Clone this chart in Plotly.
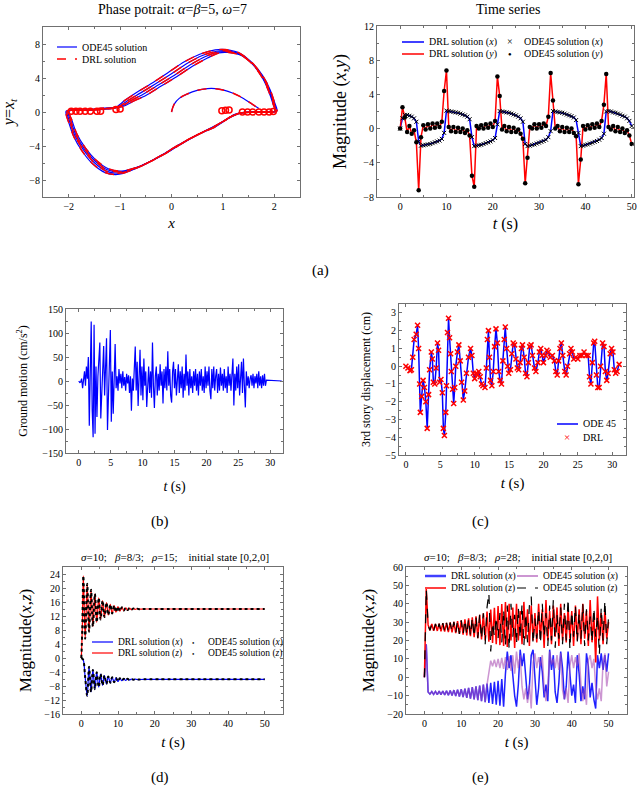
import numpy as np
import plotly.graph_objects as go

W, H = 640, 787
FONT = "Liberation Serif"
BLUE = "#0000FF"
RED = "#FF0000"
PURPLE = "rgba(170,80,180,0.6)"

# ---------------- (a) left: phase portrait, several passes round the cycle ----------------
xA = [-1.10, -0.90, -0.65, -0.35, -0.05, 0.25, 0.55, 0.85, 1.05, 1.30, 1.55, 1.77, 1.92, 2.00, 2.05, 1.70, 1.35, 1.15, 0.95, 0.70, 0.40, 0.10, -0.20, -0.50, -0.80, -1.05, -1.30, -1.55, -1.75, -1.90, -1.99, -2.05, -1.70, -1.35, -1.10]
yA = [0.50, 1.40, 2.40, 3.50, 4.70, 5.90, 6.80, 7.30, 7.35, 7.00, 5.90, 4.30, 2.60, 1.20, 0.10, 0.00, -0.10, -0.60, -1.30, -2.10, -3.00, -4.00, -5.10, -6.10, -6.90, -7.35, -7.10, -6.00, -4.50, -2.90, -1.40, 0.10, 0.20, 0.30, 0.50]
xB = [-1.05, -0.85, -0.60, -0.30, 0.00, 0.30, 0.60, 0.88, 1.07, 1.32, 1.56, 1.77, 1.91, 1.99, 2.03, 1.70, 1.35, 1.18, 0.98, 0.75, 0.45, 0.15, -0.15, -0.45, -0.75, -1.02, -1.27, -1.52, -1.72, -1.88, -1.97, -2.03, -1.70, -1.35, -1.05]
yB = [0.55, 1.35, 2.25, 3.35, 4.50, 5.70, 6.65, 7.15, 7.20, 6.85, 5.80, 4.20, 2.55, 1.15, 0.10, 0.00, -0.10, -0.50, -1.20, -1.95, -2.85, -3.85, -4.95, -5.95, -6.75, -7.20, -6.95, -5.85, -4.40, -2.80, -1.30, 0.10, 0.20, 0.35, 0.55]
xC = [-1.00, -0.80, -0.55, -0.25, 0.05, 0.35, 0.65, 0.90, 1.09, 1.34, 1.57, 1.77, 1.90, 1.98, 2.02, 1.70, 1.35, 1.20, 1.01, 0.80, 0.50, 0.20, -0.10, -0.40, -0.70, -1.00, -1.25, -1.50, -1.70, -1.86, -1.95, -2.01, -1.70, -1.35, -1.00]
yC = [0.60, 1.30, 2.10, 3.20, 4.30, 5.50, 6.50, 7.05, 7.10, 6.75, 5.70, 4.10, 2.50, 1.10, 0.10, 0.00, -0.10, -0.40, -1.10, -1.85, -2.70, -3.70, -4.80, -5.80, -6.60, -7.05, -6.80, -5.70, -4.30, -2.70, -1.20, 0.10, 0.20, 0.40, 0.60]
xD = [-0.95, -0.75, -0.50, -0.20, 0.10, 0.40, 0.70, 0.92, 1.11, 1.36, 1.58, 1.77, 1.89, 1.97, 2.01, 1.70, 1.35, 1.22, 1.04, 0.85, 0.55, 0.25, -0.05, -0.35, -0.65, -0.97, -1.22, -1.48, -1.68, -1.84, -1.93, -1.99, -1.70, -1.35, -0.95]
yD = [0.65, 1.25, 1.95, 3.05, 4.15, 5.35, 6.35, 6.95, 7.00, 6.65, 5.60, 4.00, 2.45, 1.05, 0.10, 0.00, -0.10, -0.30, -1.00, -1.75, -2.55, -3.55, -4.65, -5.65, -6.45, -6.95, -6.70, -5.60, -4.20, -2.60, -1.10, 0.10, 0.20, 0.45, 0.65]
# start-up transient from the origin
x_start = [0.0, 0.05, 0.15, 0.30, 0.50, 0.70, 0.85, 1.00, 1.20, 1.40, 1.60, 1.70]
y_start = [0.0, 0.90, 1.60, 2.10, 2.55, 2.75, 2.75, 2.60, 2.20, 1.60, 0.80, 0.40]
# small loops sitting on y ~ 0
loop_x = [-1.95, -1.86, -1.78, -1.68, -1.58, -1.45, -1.38, -1.08, -1.00,
          0.98, 1.05, 1.12, 1.38, 1.48, 1.58, 1.70, 1.80, 1.90, 1.98]
loop_y = [0.10, 0.10, 0.10, 0.10, 0.10, 0.10, 0.10, 0.30, 0.35,
          0.15, 0.20, 0.25, 0.00, 0.00, 0.00, 0.00, 0.00, 0.00, 0.05]

# ---------------- (a) right: time series, 0.5 s samples ----------------
ts_x = [0.0, 1.2, 1.6, 1.6, 1.5, 1.4, 1.2, 0.8, -1.5, -2.0,
        -1.95, -1.9, -1.85, -1.8, -1.7, -1.6, -1.5, -1.4, -1.2, -0.5,
        2.1, 2.05, 2.0, 1.95, 1.9, 1.85, 1.75, 1.65, 1.55, 1.4,
        1.1, -1.0, -2.05, -2.0, -1.95, -1.9, -1.8, -1.7, -1.6, -1.5,
        -1.35, -1.1, 0.5, 2.05, 2.0, 1.95, 1.9, 1.85, 1.75, 1.65,
        1.55, 1.4, 1.2, 0.8, -1.8, -2.05, -2.0, -1.9, -1.85, -1.75,
        -1.65, -1.55, -1.45, -1.3, -1.0, -0.3, 2.05, 2.0, 1.95, 1.9,
        1.85, 1.75, 1.65, 1.55, 1.45, 1.3, 1.0, -0.5, -2.05, -2.0,
        -1.9, -1.85, -1.75, -1.65, -1.55, -1.45, -1.3, -1.1, -0.6, 2.0,
        2.05, 2.0, 1.9, 1.85, 1.75, 1.65, 1.5, 1.4, 1.2, 0.9,
        0.3]
ts_y = [0.0, 2.5, 1.3, -0.4, 0.3, -0.6, -0.2, -1.6, -7.2, -1.0,
        0.4, -0.1, 0.5, 0.0, 0.6, 0.1, 0.6, 0.2, 0.8, 4.4,
        6.8, 0.2, -0.3, 0.2, -0.4, 0.1, -0.4, 0.0, -0.5, -0.2,
        -0.8, -5.5, -6.8, 0.3, 0.0, 0.4, 0.0, 0.5, 0.1, 0.6,
        0.2, 0.9, 6.1, 3.8, -0.1, 0.3, -0.3, 0.2, -0.4, 0.1,
        -0.4, -0.1, -0.6, -1.2, -6.4, -3.4, 0.2, 0.0, 0.5, 0.0,
        0.5, 0.1, 0.6, 0.3, 1.4, 6.5, 3.3, 0.0, 0.3, -0.3,
        0.2, -0.4, 0.1, -0.4, 0.0, -0.5, -0.9, -6.5, -3.6, 0.3,
        -0.1, 0.4, 0.0, 0.5, 0.1, 0.6, 0.2, 0.9, 2.8, 6.4,
        0.2, -0.1, 0.3, -0.3, 0.2, -0.4, 0.0, -0.5, -0.2, -0.8,
        -1.8]
ts_t = np.arange(len(ts_x)) * 0.5

# ---------------- (b) ground motion, 0.15 s samples ----------------
gm = [0, -3, -2, 5, -15, 10, 20, -10, 30, 5,
      50, -93, 20, 124, -60, -117, 117, -110, 30, -75,
      10, 40, 80, -78, -20, 20, 73, -30, 15, 89,
      -102, -20, 60, 106, -85, 20, -68, 10, 77, -15,
      10, -20, 25, -5, 15, -15, 20, -10, 8, -20,
      15, -5, 12, -25, 10, -62, 5, -20, 30, 72,
      -20, 40, -52, 20, 65, -30, 30, -40, 47, -10,
      20, -54, 10, 30, -25, 20, -35, 80, -10, -56,
      10, 30, -30, 15, -20, 35, -10, 20, -47, 25,
      -15, 30, -20, 62, -10, 25, -30, -45, 20, 40,
      -15, 25, -30, 10, 35, -25, 20, -15, 30, -35,
      15, -20, 55, -10, 20, -30, 25, -15, 10, -25,
      20, -10, 25, -20, 15, -30, 20, -10, 25, -20,
      10, -25, 30, -15, 20, -10, 30, -20, -38, 25,
      -15, 30, -20, 10, 25, -25, 15, -20, 28, -10,
      15, -20, 25, -15, 10, -25, 30, -10, 15, -20,
      20, 47, -51, 15, -20, 30, -15, 35, -30, 20,
      40, -25, 47, -10, -55, 20, -10, 10, -15, 5,
      12, -10, 15, -15, 10, -5, 15, -15, 20, -10,
      10, -15, 12, -10, 15, -10]
gm_tail_t = [29.4, 31.8]
gm_tail = [2, 0]
gm_t = list(np.arange(len(gm)) * 0.15) + gm_tail_t
gm_all = gm + gm_tail

# ---------------- (c) 3rd story displacement ----------------
sd_t = [0, 0.3, 0.6, 0.8, 1.0, 1.2, 1.5, 1.7, 1.85, 2.0, 2.1, 2.3, 2.5, 2.7, 2.9, 3.1, 3.3, 3.45, 3.7, 3.85,
        4.0, 4.2, 4.4, 4.6, 4.75, 4.9, 5.1, 5.3, 5.45, 5.6, 5.8, 5.9, 6.05, 6.2, 6.35, 6.5, 6.6, 6.8, 6.95, 7.1,
        7.25, 7.5, 7.7, 7.9, 8.1, 8.35, 8.55, 8.8, 9.1, 9.4, 9.6, 9.8, 10.0, 10.2, 10.4, 10.6, 10.8, 11.0, 11.2, 11.5,
        11.7, 11.85, 12.0, 12.15, 12.3, 12.5, 12.7, 12.9, 13.1, 13.3, 13.5, 13.7, 13.9, 14.1, 14.3, 14.45, 14.65, 14.8, 14.95, 15.2,
        15.4, 15.6, 15.8, 16.0, 16.2, 16.4, 16.6, 16.8, 16.95, 17.2, 17.4, 17.6, 17.8, 18.0, 18.2, 18.4, 18.7, 18.9, 19.2, 19.4,
        19.6, 19.8, 20.0, 20.3, 20.5, 20.7, 21.0, 21.3, 21.6, 21.8, 22.0, 22.2, 22.4, 22.6, 22.8, 23.1, 23.3, 23.5, 23.8, 24.0,
        24.2, 24.4, 24.7, 25.0, 25.3, 25.6, 25.9, 26.2, 26.5, 26.7, 26.9, 27.1, 27.3, 27.45, 27.7, 27.9, 28.1, 28.3, 28.6, 28.8,
        29.0, 29.2, 29.4, 29.7, 29.9, 30.1, 30.3, 30.5, 30.7, 31.0]
sd = [0.0, -0.1, -0.25, -0.2, 0.5, 1.5, 1.8, 2.3, 1.0, -1.0, -2.6, -1.7, -0.8, -1.2, -2.0, -3.5, -1.6, -0.2, 0.8, 0.4,
      -0.9, -1.0, -0.1, 1.3, 0.9, -0.9, -0.75, -1.5, -3.5, -3.9, -2.6, -1.1, 1.9, 2.7, 1.6, 0.7, -0.3, -1.3, -2.1, -1.2,
      0.0, 0.8, 1.2, 0.3, -0.9, -1.9, -1.4, -0.4, 0.5, 1.0, 0.6, -0.4, -0.7, -0.4, -0.5, -0.3, -0.6, -1.0, -1.1, -1.2,
      -0.1, 1.5, 2.0, 0.5, -0.8, -1.1, -0.3, 1.1, 2.1, 1.3, -0.3, -0.8, -1.0, 0.3, 1.5, 2.2, 1.0, 0.0, -0.4, -0.2,
      0.7, 1.3, 1.2, 0.4, -0.1, -0.2, 0.2, 1.0, 1.2, 0.5, -0.4, -0.6, 0.2, 1.1, 1.2, 0.6, -0.1, -0.3, 0.2, 0.8,
      1.0, 0.6, 0.2, 0.6, 0.9, 0.8, 0.5, 0.6, 0.3, -0.3, -0.5, 0.3, 1.0, 1.3, 0.6, -0.3, -0.5, 0.0, 0.7, 1.0,
      0.8, 0.4, 0.5, 0.4, 0.6, 0.6, 0.8, 0.6, 0.6, -0.6, -1.0, 0.2, 1.3, 1.4, -0.5, -1.2, -1.2, 0.0, 1.3, 1.1,
      -0.3, -0.8, -0.4, 0.7, 1.0, 0.8, -0.2, -0.4, -0.3, 0.1]

# ---------------- (d) Lorenz, rho = 15 (peaks and troughs) ----------------
ld_z_t = [0, 0.25, 0.55, 1.05, 1.6, 2.1, 2.65, 3.15, 3.7, 4.2, 4.75, 5.25, 5.8, 6.3, 6.85, 7.35, 7.9, 8.4,
          8.95, 9.45, 10.0, 10.5, 11.05, 11.55, 12.1, 12.6, 13.15, 13.65, 14.2, 14.7, 15.25, 15.75, 17.0, 50.0]
ld_z = [0, 8, 23.5, 5.5, 21.2, 7.5, 19.5, 9.0, 18.3, 10.2, 17.2, 11.0, 16.4, 11.7, 15.8, 12.3, 15.3, 12.7,
        15.0, 13.1, 14.7, 13.35, 14.5, 13.55, 14.35, 13.7, 14.25, 13.8, 14.15, 13.9, 14.1, 13.95, 14.0, 14.0]
ld_x_t = [0, 0.5, 1.0, 1.6, 2.1, 2.65, 3.15, 3.7, 4.2, 4.75, 5.25, 5.8, 6.3, 6.85, 7.35, 7.9, 8.4, 8.95,
          9.45, 10.0, 10.5, 11.05, 11.55, 12.1, 12.6, 13.15, 13.65, 14.2, 14.7, 15.25, 17.0, 50.0]
ld_x = [0, -0.5, -5.0, -10.8, -2.5, -9.7, -3.4, -8.9, -4.1, -8.3, -4.6, -7.8, -5.0, -7.4, -5.3, -7.1, -5.5, -6.9,
        -5.7, -6.7, -5.8, -6.5, -5.9, -6.4, -5.95, -6.3, -6.0, -6.2, -6.05, -6.15, -6.1, -6.1]

# ---------------- (e) Lorenz, rho = 28, 0.5 s samples ----------------
le_drl_z = [0, 48, 28.5, 25.5, 29.0, 25.3, 29.0, 25.2, 29.2, 25.0,
            29.4, 24.8, 29.6, 24.6, 29.8, 24.4, 30.2, 24.0, 30.6, 23.6,
            31.0, 23.2, 31.5, 22.8, 32.0, 22.3, 32.6, 21.8, 33.2, 21.2,
            34.0, 20.6, 34.8, 20.0, 35.8, 19.3, 36.8, 18.6, 37.8, 18.0,
            38.8, 17.5, 39.8, 17.0, 41.0, 16.5, 40.0, 20.0, 38.0, 16.0,
            40.0, 20.0, 36.0, 18.0, 41.0, 21.0, 37.0, 17.0, 39.0, 20.0,
            35.0, 19.0, 40.0, 21.0, 37.0, 16.0, 42.0, 20.0, 36.0, 18.0,
            39.0, 22.0, 38.0, 17.0, 40.0, 20.0, 35.0, 19.0, 38.0, 21.0,
            36.0, 17.0, 39.0, 20.0, 37.0, 18.0, 40.0, 21.0, 36.0, 17.0,
            42.0, 19.0, 35.0, 8.0, 44.0, 20.0, 35.0, 18.0, 37.0, 21.0,
            30.0]
le_drl_x = [0, 18, -8.0, -9.2, -7.8, -9.3, -7.7, -9.4, -7.6, -9.5,
            -7.5, -9.6, -7.4, -9.8, -7.2, -10.0, -7.0, -10.2, -6.8, -10.5,
            -6.5, -10.8, -6.2, -11.2, -5.8, -11.6, -5.4, -12.0, -5.0, -12.5,
            -4.5, -13.0, -4.0, -13.5, -3.5, -14.0, -3.0, -14.5, -2.5, -15.0,
            -2.0, -15.5, -1.0, -16.0, 2.0, 14.0, 5.0, 12.0, 1.0, -10.0,
            -16.0, -4.0, 15.0, 6.0, 13.0, -2.0, -12.0, -5.0, 12.0, 15.0,
            -3.0, -15.0, -6.0, 11.0, 3.0, -11.0, -4.0, -13.0, 15.0, 4.0,
            12.0, -8.0, -14.0, -3.0, 14.0, 5.0, -12.0, -5.0, 14.0, 3.0,
            -10.0, -4.0, -14.0, 12.0, 2.0, -13.0, -5.0, -12.0, 13.0, 6.0,
            -11.0, -3.0, -12.0, -17.0, 12.0, 5.0, 13.0, 4.0, 12.0, 3.0,
            13.0]
# ODE45 agrees with DRL at first, then departs
le_ode_z = le_drl_z[:33] + [
    18.0, 38.0, 46.0, 14.0, 30.0, 22.0, 33.0, 21.0, 35.0, 19.0,
    37.0, 17.0, 39.0, 15.0, 40.0, 22.0, 34.0, 18.0, 38.0, 21.0,
    40.0, 17.0, 35.0, 19.0, 39.0, 44.0, 18.0, 32.0, 21.0, 37.0,
    18.0, 40.0, 22.0, 35.0, 17.0, 39.0, 20.0, 42.0, 16.0, 34.0,
    21.0, 38.0, 18.0, 40.0, 20.0, 43.0, 15.0, 36.0, 22.0, 39.0,
    19.0, 35.0, 21.0, 40.0, 17.0, 37.0, 20.0, 33.0, 19.0, 38.0,
    22.0, 34.0, 12.0, 38.0, 20.0, 42.0, 18.0, 33.0]
le_ode_x = le_drl_x[:34] + [
    -4.0, 2.0, 9.0, 6.0, 9.5, 5.5, 10.0, 5.0, 10.5, 4.5,
    11.0, 4.0, 11.5, 3.5, 12.0, 2.0, 14.0, 5.0, 12.0, -5.0,
    -12.0, -6.0, -14.0, -4.0, -17.0, 8.0, 13.0, 5.0, 11.0, 6.0,
    12.0, -6.0, -13.0, -5.0, 14.0, 7.0, 10.0, 5.0, 12.0, 4.0,
    13.0, -7.0, -12.0, -6.0, -14.0, 6.0, 12.0, 5.0, 11.0, 6.0,
    13.0, -4.0, -13.0, -6.0, -15.0, 9.0, 12.0, 5.0, 10.0, -5.0,
    -12.0, -6.0, -13.0, 8.0, 13.0, -5.0, 3.0]


def t_half(arr):
    return np.arange(len(arr)) * 0.5


def join(*parts):
    out = []
    for p in parts:
        out += list(p) + [None]
    return out[:-1]


# pixel layout -> paper fractions
def fx(p):
    return p / W


def fy(p):
    return 1 - p / H


fig = go.Figure()

# (a) left
cyc_x = join(xA, xB, xC, xD)
cyc_y = join(yA, yB, yC, yD)
for col, wid, dash in [(BLUE, 1.2, "solid"), (RED, 1.5, "dash")]:
    fig.add_trace(go.Scatter(x=cyc_x, y=cyc_y, mode="lines", xaxis="x", yaxis="y",
                             line=dict(color=col, width=wid, dash=dash, shape="spline", smoothing=0.8)))
    fig.add_trace(go.Scatter(x=x_start, y=y_start, mode="lines", xaxis="x", yaxis="y",
                             line=dict(color=col, width=wid, dash=dash, shape="spline")))
fig.add_trace(go.Scatter(x=loop_x, y=loop_y, mode="markers", xaxis="x", yaxis="y",
                         marker=dict(symbol="circle-open", size=6, color=RED, line=dict(width=1.5))))

# (a) right
fig.add_trace(go.Scatter(x=ts_t, y=ts_x, mode="lines", line=dict(color=BLUE, width=1.5), xaxis="x2", yaxis="y2"))
fig.add_trace(go.Scatter(x=ts_t, y=ts_y, mode="lines", line=dict(color=RED, width=1.5), xaxis="x2", yaxis="y2"))
fig.add_trace(go.Scatter(x=ts_t, y=ts_x, mode="markers", xaxis="x2", yaxis="y2",
                         marker=dict(symbol="x-thin", size=4, color="black", line=dict(width=1, color="black"))))
fig.add_trace(go.Scatter(x=ts_t, y=ts_y, mode="markers", xaxis="x2", yaxis="y2",
                         marker=dict(symbol="circle", size=4.5, color="black")))

# (b)
fig.add_trace(go.Scatter(x=gm_t, y=gm_all, mode="lines", line=dict(color=BLUE, width=1.2), xaxis="x3", yaxis="y3"))

# (c)
fig.add_trace(go.Scatter(x=sd_t, y=sd, mode="lines", line=dict(color=BLUE, width=1.5), xaxis="x4", yaxis="y4"))
fig.add_trace(go.Scatter(x=sd_t, y=sd, mode="markers", xaxis="x4", yaxis="y4",
                         marker=dict(symbol="x-thin", size=5, color=RED, line=dict(width=1.5, color=RED))))

# (d)
fig.add_trace(go.Scatter(x=ld_x_t, y=ld_x, mode="lines", line=dict(color=BLUE, width=1.2, shape="spline"), xaxis="x5", yaxis="y5"))
fig.add_trace(go.Scatter(x=ld_z_t, y=ld_z, mode="lines", line=dict(color=RED, width=1.2, shape="spline"), xaxis="x5", yaxis="y5"))
fig.add_trace(go.Scatter(x=ld_x_t, y=ld_x, mode="lines", line=dict(color="black", width=2, dash="dot", shape="spline"), xaxis="x5", yaxis="y5"))
fig.add_trace(go.Scatter(x=ld_z_t, y=ld_z, mode="lines", line=dict(color="black", width=2, dash="dot", shape="spline"), xaxis="x5", yaxis="y5"))

# (e)
fig.add_trace(go.Scatter(x=t_half(le_drl_x), y=le_drl_x, mode="lines", line=dict(color="#2020FF", width=1.5), xaxis="x6", yaxis="y6"))
fig.add_trace(go.Scatter(x=t_half(le_ode_x), y=le_ode_x, mode="lines", line=dict(color=PURPLE, width=1.5), xaxis="x6", yaxis="y6"))
fig.add_trace(go.Scatter(x=t_half(le_drl_z), y=le_drl_z, mode="lines", line=dict(color=RED, width=1.5), xaxis="x6", yaxis="y6"))
fig.add_trace(go.Scatter(x=t_half(le_ode_z), y=le_ode_z, mode="lines", line=dict(color="black", width=1.2, dash="dash"), xaxis="x6", yaxis="y6"))

GREY = "#707070"
tick_font = dict(family=FONT, size=10, color="black")


def axis(dom, rng, dtick, minor, title="", tsize=13, standoff=6, anchor=None):
    return dict(domain=dom, range=rng, dtick=dtick, anchor=anchor, automargin=False,
                showline=True, mirror="ticks", linecolor=GREY, linewidth=1,
                ticks="inside", ticklen=3, tickcolor=GREY, tickfont=tick_font,
                showgrid=False, zeroline=False,
                minor=dict(dtick=minor, ticks="inside", ticklen=2, tickcolor=GREY),
                title=dict(text=title, font=dict(family=FONT, size=tsize, color="black"), standoff=standoff))


fig.update_layout(
    width=W, height=H, margin=dict(l=0, r=0, t=0, b=0), showlegend=False,
    paper_bgcolor="white", plot_bgcolor="white", hovermode=False,
    font=dict(family=FONT, color="black"),
    xaxis=axis([fx(43), fx(300)], [-2.5, 2.5], 1, 0.5, "<i>x</i>", 15, 6, "y"),
    yaxis=axis([fy(197), fy(27)], [-10, 10], 4, 2, "<i>y</i>=<i>x</i><sub><i>t</i></sub>", 16, 14, "x"),
    xaxis2=axis([fx(377), fx(634)], [-5, 50.5], 10, 5, "<i>t</i> (s)", 16, 6, "y2"),
    yaxis2=axis([fy(197), fy(26)], [-8, 12], 4, 2, "Magnitude (<i>x</i>,<i>y</i>)", 18, 12, "x2"),
    xaxis3=axis([fx(66), fx(283)], [-2, 32], 5, 2.5, "<i>t</i> (s)", 14, 14, "y3"),
    yaxis3=axis([fy(453), fy(309)], [-150, 150], 50, 25, "Ground motion (cm/s<sup>2</sup>)", 12, 12, "x3"),
    xaxis4=axis([fx(399), fx(626)], [-1, 32], 5, 2.5, "<i>t</i> (s)", 15, 8, "y4"),
    yaxis4=axis([fy(455), fy(304)], [-5, 3.5], 1, 0.5, "3rd story displacement (cm)", 12, 12, "x4"),
    xaxis5=axis([fx(63), fx(283)], [-5, 55], 10, 5, "<i>t</i> (s)", 15, 8, "y5"),
    yaxis5=axis([fy(714), fy(567)], [-16, 26], 4, 2, "Magnitude(<i>x</i>,<i>z</i>)", 17, 8, "x5"),
    xaxis6=axis([fx(406), fx(627)], [-5, 55], 10, 5, "<i>t</i> (s)", 15, 8, "y6"),
    yaxis6=axis([fy(714), fy(567)], [-20, 60], 10, 5, "Magnitude(<i>x</i>,<i>z</i>)", 17, 8, "x6"),
)


def note(text, xp, yp, size, anchor="center"):
    fig.add_annotation(text=text, x=fx(xp), y=fy(yp), xref="paper", yref="paper", showarrow=False,
                       font=dict(family=FONT, size=size, color="black"), xanchor=anchor, yanchor="middle")


def key_line(x0, x1, y, color, width, dash, text, size=10):
    fig.add_shape(type="line", xref="paper", yref="paper", x0=fx(x0), x1=fx(x1), y0=fy(y), y1=fy(y),
                  line=dict(color=color, width=width, dash=dash))
    note(text, x1 + 3, y, size, "left")


def key_mark(xc, y, glyph, color, gsize, text_x, text, size=10):
    fig.add_annotation(text=glyph, x=fx(xc), y=fy(y), xref="paper", yref="paper", showarrow=False,
                       font=dict(family=FONT, size=gsize, color=color), xanchor="center", yanchor="middle")
    note(text, text_x, y, size, "left")


# legends drawn by hand, placed as in the reference
key_line(57, 77, 47, BLUE, 1.2, "solid", "ODE45 solution")
key_line(57, 77, 59, RED, 1.5, "dash", "DRL solution")

key_line(402, 424, 42, BLUE, 1.5, "solid", "DRL solution (<i>x</i>)")
key_line(402, 424, 54, RED, 1.5, "solid", "DRL solution (<i>y</i>)")
key_mark(510, 42, "×", "black", 10, 522, "ODE45 solution (<i>x</i>)")
key_mark(510, 54, "●", "black", 6, 522, "ODE45 solution (<i>y</i>)")

key_line(557, 578, 424, BLUE, 1.5, "solid", "ODE 45")
key_mark(567, 437, "×", RED, 11, 581, "DRL")

key_line(92, 113, 642, BLUE, 1.2, "solid", "DRL solution (<i>x</i>)", 9.5)
key_line(92, 113, 653, RED, 1.2, "solid", "DRL solution (<i>z</i>)", 9.5)
key_mark(193, 642, "●", "black", 4, 206, "ODE45 solution (<i>x</i>)", 9.5)
key_mark(193, 653, "●", "black", 4, 206, "ODE45 solution (<i>z</i>)", 9.5)

key_line(425, 446, 576, "#4040FF", 2.5, "solid", "DRL solution (<i>x</i>)", 9.5)
key_line(425, 446, 588, RED, 1.5, "solid", "DRL solution (<i>z</i>)", 9.5)
key_line(517, 538, 576, PURPLE, 2, "solid", "ODE45 solution (<i>x</i>)", 9.5)
key_line(517, 538, 588, "black", 1.2, "dash", "ODE45 solution (<i>z</i>)", 9.5)

note("Phase potrait: <i>α</i>=<i>β</i>=5, <i>ω</i>=7", 172, 9, 14)
note("Time series", 508, 9, 14)
note("<i>σ</i>=10;   <i>β</i>=8/3;   <i>ρ</i>=15;    initial state [0,2,0]", 175, 557, 11)
note("<i>σ</i>=10;   <i>β</i>=8/3;   <i>ρ</i>=28;    initial state [0,2,0]", 518, 557, 11)
note("(a)", 320, 270, 15)
note("(b)", 160, 521, 15)
note("(c)", 480, 521, 15)
note("(d)", 160, 777, 15)
note("(e)", 480, 777, 15)

# the page's default body margin would shift the figure by 8 px
fig.write_html("out.html", config={"displayModeBar": False},
               post_script="document.body.style.margin='0px';")
